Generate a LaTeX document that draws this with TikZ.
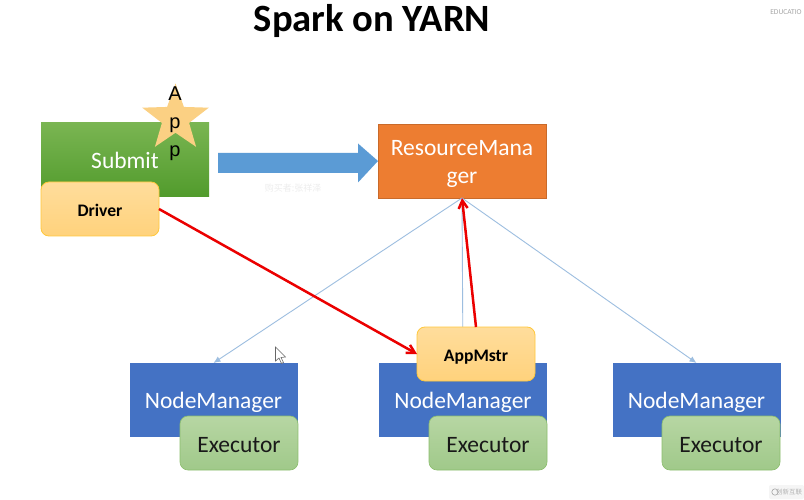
\documentclass[tikz,border=0pt]{standalone}
\usepackage{fontspec}
\setmainfont{Carlito}
\newfontfamily\arialfont{Liberation Sans}
\newfontfamily\cjkfont{Noto Sans CJK SC}
\usetikzlibrary{shapes.geometric,arrows.meta}
\definecolor{nmblue}{HTML}{4472C4}
\definecolor{arrowblue}{HTML}{5B9BD5}
\definecolor{rmorange}{HTML}{ED7D31}
\definecolor{linkblue}{HTML}{9DBEE0}
\definecolor{subtop}{HTML}{7AB552}
\definecolor{subbot}{HTML}{519B2C}
\definecolor{yeltop}{HTML}{FFDD9C}
\definecolor{yelbot}{HTML}{FFD27C}
\definecolor{yeledge}{HTML}{FFC83C}
\definecolor{exetop}{HTML}{B7D6A3}
\definecolor{exebot}{HTML}{A0C98A}
\definecolor{exeedge}{HTML}{8CBE6E}
\definecolor{starfill}{HTML}{FBD083}
\newcommand{\lowered}[2][2.2pt]{\raisebox{-#1}[\height][\depth]{#2}}
\tikzset{
  x=1pt,y=-1pt,
  every node/.style={inner sep=0pt,outer sep=0pt},
  box/.style={minimum width=168pt,minimum height=74pt,text=white,font=\fontsize{23.5}{28}\selectfont,align=center},
  nmbox/.style={box,fill=nmblue},
  yellowbox/.style={rounded corners=8pt,minimum width=118pt,minimum height=54pt,draw=yeledge,line width=.8pt,
    top color=yeltop,bottom color=yelbot,font=\bfseries\fontsize{17.6}{21}\selectfont,text=black},
  execbox/.style={rounded corners=8pt,minimum width=118pt,minimum height=54pt,draw=exeedge,line width=.6pt,
    top color=exetop,bottom color=exebot,font=\fontsize{23.5}{28}\selectfont,text=black!90},
  thinlink/.style={linkblue,line width=.9pt,-{Latex[length=7pt,width=6pt]}},
  redlink/.style={red!92!black,line width=2.5pt,-{Straight Barb[length=8pt,width=9pt]}},
  mark text/.style={text=black!35}
}
\begin{document}
\begin{tikzpicture}
\useasboundingbox (0,0) rectangle (804,500);
\fill[white] (0,0) rectangle (804,500);
\node[font=\bfseries\fontsize{38.6}{44}\selectfont] (title) at (372,21) {Spark on YARN};
\node[mark text,font=\fontsize{7.5}{9}\selectfont] (edu) at (786,12.5) {EDUCATIO};
% boxes
\node[box,top color=subtop,bottom color=subbot] (sub) at (125,160) {\lowered[0.5pt]{Submit}};
\node[star,star points=5,star point ratio=2.45,minimum size=70pt,fill=starfill] (star) at (175.5,118.5) {};
\node[font=\arialfont\fontsize{20}{24}\selectfont,align=center] (app) at (175,123.5) {A\\[4pt]p\\[4pt]p};
\node[yellowbox] (drv) at (100,209) {\lowered[1.4pt]{Driver}};
\node[box,fill=rmorange,draw=rmorange!85!black,line width=.5pt] (rm) at (462,161) {\lowered[3pt]{ResourceMana}\\[0pt]\lowered[3pt]{ger}};
\coordinate (arrowstart) at (218,163);
\fill[arrowblue] (arrowstart) ++(0,-10) -- ++(140,0) -- ++(0,-9.5) -- (rm.west) -- (358,182.5) -- (358,173) -- (218,173) -- cycle;
\node[nmbox] (nma) at (213.5,400) {\lowered{NodeManager}};
\node[nmbox] (nmb) at (463,400) {\lowered{NodeManager}};
\node[nmbox] (nmc) at (696.5,400) {\lowered{NodeManager}};
\node[execbox] (exa) at (239,443) {\lowered[1.6pt]{Executor}};
\node[execbox] (exb) at (488,443) {\lowered[1.6pt]{Executor}};
\node[execbox] (exc) at (721,443) {\lowered[1.6pt]{Executor}};
% links
\draw[thinlink] (rm.south) -- (nma.north);
\draw[thinlink] (rm.south) -- (nmc.north);
\draw[linkblue,line width=.9pt] (nmb.north) -- (rm.south);
\node[yellowbox] (am) at (476,354) {\lowered[3pt]{AppMstr}};
\draw[redlink] (drv.east) -- (am.west);
\draw[redlink] (am.north) -- (rm.south);
% cursor
\draw[black!60,fill=white,line width=.6pt] (275.5,347) -- (275.5,361) -- (279,358) -- (281.5,363.5) -- (283.5,362.5) -- (281,357.5) -- (285.5,357) -- cycle;
% watermarks
\node[font=\cjkfont\fontsize{9}{11}\selectfont,text=black!7] (wm) at (293,188) {购买者:张祥泽};
\fill[black!4,rounded corners=2pt] (769,485) rectangle (804,499);
\node[font=\cjkfont\fontsize{6.5}{8}\selectfont,text=black!30] (logo) at (789,492) {创新互联};
\draw[black!35,line width=.6pt] (775,492) circle (3.2pt);
\end{tikzpicture}
\end{document}
